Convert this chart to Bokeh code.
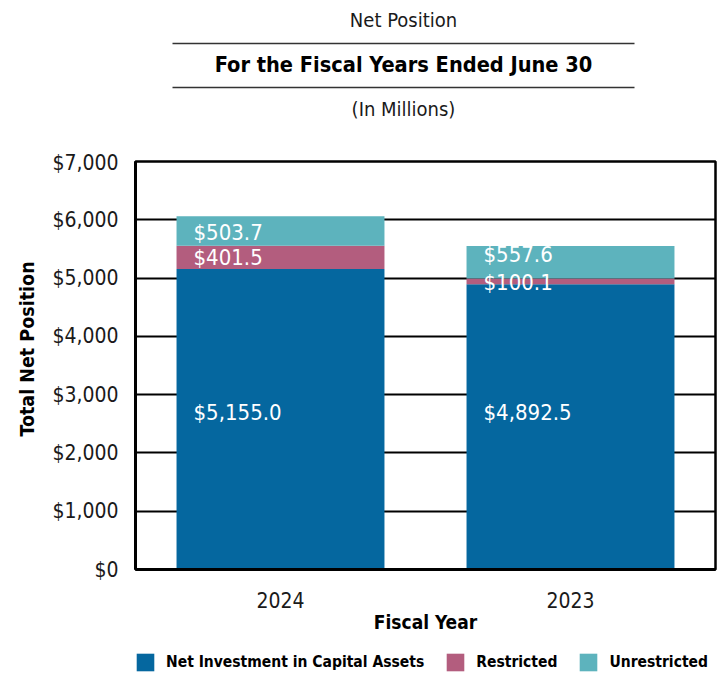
from bokeh.plotting import figure
from bokeh.layouts import column
from bokeh.models import (ColumnDataSource, Range1d, FactorRange, Legend, LegendItem,
                          NumeralTickFormatter, FixedTicker, Title)
from bokeh.core.properties import value
from bokeh.embed import file_html
from bokeh.resources import INLINE

# ---- data ----
years = ["2024", "2023"]
net_investment = [5155.0, 4892.5]
restricted = [401.5, 100.1]
unrestricted = [503.7, 557.6]
series_names = ["Net Investment in Capital Assets", "Restricted", "Unrestricted"]
y_ticks = [0, 1000, 2000, 3000, 4000, 5000, 6000, 7000]

colors = ["#05679F", "#B35D7E", "#5DB3BD"]
FONT_NAME = "DejaVu Sans Condensed, Liberation Sans, sans-serif"
FONT = value(FONT_NAME)
TXT = "#1a1a1a"
W = 727
FL, FR = 135, 715   # plot frame edges in page pixels (frames are aligned in the column)

# ---- header (titles and rules) ----
hdr = figure(width=W, height=150, x_range=Range1d(FL, FR), y_range=Range1d(150, 0),
             output_backend="svg", toolbar_location=None,
             min_border_left=FL, min_border_right=W - FR, min_border_top=0, min_border_bottom=0)
hdr.axis.visible = False
hdr.grid.visible = False
hdr.outline_line_color = None
hdr.segment(x0=[172, 172], y0=[43, 87], x1=[634, 634], y1=[43, 87],
            line_color="#333333", line_width=1.5)
hdr.text(x=[403], y=[19], text=["Net Position"], text_font=FONT, text_font_size="20px",
         text_align="center", text_baseline="middle", text_color=TXT)
hdr.text(x=[403], y=[64], text=["For the Fiscal Years Ended June 30"], text_font=FONT,
         text_font_size="21.6px", text_font_style="bold", text_align="center",
         text_baseline="middle", text_color="#000000")
hdr.text(x=[403], y=[108], text=["(In Millions)"], text_font=FONT, text_font_size="20px",
         text_align="center", text_baseline="middle", text_color=TXT)

# ---- main chart ----
src = ColumnDataSource(dict(year=years, net=net_investment, res=restricted, unr=unrestricted))

p = figure(width=W, height=495, x_range=FactorRange(factors=years), y_range=Range1d(0, 7000),
           output_backend="svg", toolbar_location=None,
           min_border_left=FL, min_border_right=W - FR, min_border_top=11, min_border_bottom=76)

rs = p.vbar_stack(["net", "res", "unr"], x="year", width=0.717, color=colors,
                  line_color=None, source=src)

# data labels
lab_x, lab_y, lab_t, lab_dy = [], [], [], []
dys = {("2024", 0): -7, ("2024", 1): 0, ("2024", 2): 2,
       ("2023", 0): -14, ("2023", 1): 1, ("2023", 2): -8}
for i, yr in enumerate(years):
    base = 0.0
    for j, vals in enumerate([net_investment, restricted, unrestricted]):
        v = vals[i]
        lab_x.append(yr)
        lab_y.append(base + v / 2)
        lab_t.append(f"${v:,.1f}")
        lab_dy.append(dys[(yr, j)])
        base += v
lsrc = ColumnDataSource(dict(x=lab_x, y=lab_y, t=lab_t, dy=lab_dy))
p.text(x="x", y="y", text="t", source=lsrc, x_offset=-87, y_offset="dy",
       text_font=FONT, text_font_size="22px", text_color="#FFFFFF",
       text_align="left", text_baseline="middle")

# axes
p.yaxis.ticker = FixedTicker(ticks=y_ticks)
p.yaxis.formatter = NumeralTickFormatter(format="$0,0")
p.xaxis.axis_label = "Fiscal Year"
for ax in (p.xaxis[0], p.yaxis[0]):
    ax.major_tick_in = 0
    ax.major_tick_out = 0
    ax.minor_tick_in = 0
    ax.minor_tick_out = 0
    ax.axis_line_color = "#000000"
    ax.axis_line_width = 3
    ax.major_label_text_font = FONT_NAME
    ax.major_label_text_font_size = "21px"
    ax.major_label_text_color = TXT
    ax.axis_label_text_font = FONT_NAME
    ax.axis_label_text_font_style = "bold"
    ax.axis_label_text_color = "#000000"
p.xaxis.axis_label_text_font_size = "19px"
p.yaxis.major_label_standoff = 17
p.xaxis.major_label_standoff = 22
p.xaxis.axis_label_standoff = 0

# y-axis title (as a side title so it can sit slightly above the frame centre)
ytitle = Title(text="Total Net Position", align="left", offset=133, standoff=22,
               text_font=FONT_NAME, text_font_size="19.5px", text_font_style="bold",
               text_color="#000000")
p.add_layout(ytitle, "left")

p.xgrid.visible = False
p.ygrid.grid_line_color = "#000000"
p.ygrid.grid_line_width = 2
p.outline_line_color = "#000000"
p.outline_line_width = 2.5

# ---- legend strip ----
ft = figure(width=W, height=30, x_range=Range1d(FL, FR), y_range=Range1d(0, 1),
            output_backend="svg", toolbar_location=None,
            min_border_left=FL, min_border_right=W - FR, min_border_top=0, min_border_bottom=0)
ft.axis.visible = False
ft.grid.visible = False
ft.outline_line_color = None
lr = [ft.vbar(x=[-1000], top=[0], width=1, color=c, line_color=None) for c in colors]
legend = Legend(items=[LegendItem(label=n, renderers=[r]) for n, r in zip(series_names, lr)],
                orientation="horizontal", location=(-1, 2), margin=0, padding=0,
                spacing=20, label_standoff=10, glyph_width=22, glyph_height=22,
                border_line_color=None, background_fill_alpha=0,
                label_text_font=FONT_NAME, label_text_font_size="15.5px",
                label_text_font_style="bold", label_text_color="#000000")
ft.add_layout(legend)

layout = column(hdr, p, ft, spacing=0)
open("out.html", "w").write(file_html(layout, INLINE))
